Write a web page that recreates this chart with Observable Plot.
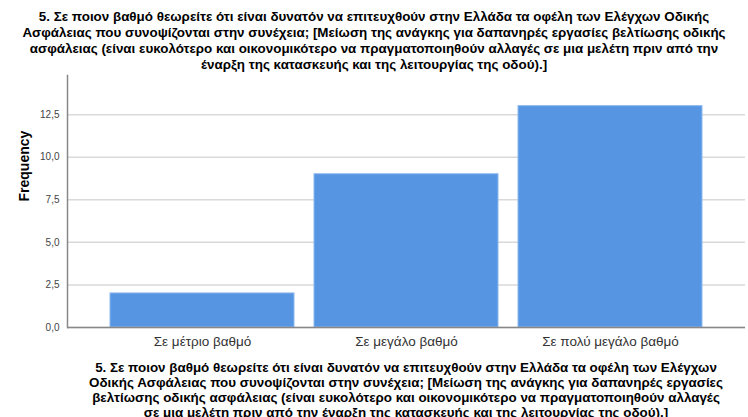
<!DOCTYPE html>
<html>
<head>
<meta charset="utf-8">
<script src="https://cdn.jsdelivr.net/npm/d3@7"></script>
<script src="https://cdn.jsdelivr.net/npm/@observablehq/plot@0.6"></script>
<style>
  html, body { margin: 0; padding: 0; background: #fff; }
  #wrap { position: relative; width: 748px; height: 417px; overflow: hidden; font-family: Arial, "Liberation Sans", sans-serif; }
  #wrap svg { position: absolute; left: 0; top: 0; }
  .ttl { position: absolute; text-align: center; font-weight: bold; font-size: 13.4px; color: #000; white-space: pre; }
  #title { left: 0; top: 9px; width: 748px; line-height: 16px; }
  #caption { left: 67px; top: 360px; width: 678px; line-height: 15px; }
</style>
</head>
<body>
<div id="wrap">
  <div id="chart"></div>
  <div id="title" class="ttl"></div>
  <div id="caption" class="ttl"></div>
</div>
<script>
const categories = ["Σε μέτριο βαθμό", "Σε μεγάλο βαθμό", "Σε πολύ μεγάλο βαθμό"];
const frequencies = [2, 9, 13];
const yTicks = [0, 2.5, 5, 7.5, 10, 12.5];
const yLabel = "Frequency";
const titleLines = [
  "5. Σε ποιον βαθμό θεωρείτε ότι είναι δυνατόν να επιτευχθούν στην Ελλάδα τα οφέλη των Ελέγχων Οδικής",
  "Ασφάλειας που συνοψίζονται στην συνέχεια; [Μείωση της ανάγκης για δαπανηρές εργασίες βελτίωσης οδικής",
  "ασφάλειας (είναι ευκολότερο και οικονομικότερο να πραγματοποιηθούν αλλαγές σε μια μελέτη πριν από την",
  "έναρξη της κατασκευής και της λειτουργίας της οδού).]"
];
const captionLines = [
  "5. Σε ποιον βαθμό θεωρείτε ότι είναι δυνατόν να επιτευχθούν στην Ελλάδα τα οφέλη των Ελέγχων",
  "Οδικής Ασφάλειας που συνοψίζονται στην συνέχεια; [Μείωση της ανάγκης για δαπανηρές εργασίες",
  "βελτίωσης οδικής ασφάλειας (είναι ευκολότερο και οικονομικότερο να πραγματοποιηθούν αλλαγές",
  "σε μια μελέτη πριν από την έναρξη της κατασκευής και της λειτουργίας της οδού).]"
];

document.getElementById("title").textContent = titleLines.join("\n");
document.getElementById("caption").textContent = captionLines.join("\n");

const data = categories.map((c, i) => ({category: c, value: frequencies[i]}));
const fmt = d => d3.format(".1f")(d).replace(".", ",");

const chart = Plot.plot({
  width: 748,
  height: 417,
  marginTop: 75,
  marginBottom: 90,
  marginLeft: 67,
  marginRight: 3,
  style: {fontFamily: "Arial, 'Liberation Sans', sans-serif", background: "#fff"},
  x: {domain: categories, paddingInner: 0.1, paddingOuter: 0.21, label: null},
  y: {domain: [0, 14.8], label: null},
  marks: [
    Plot.gridY(yTicks, {stroke: "#d9d9d9", strokeOpacity: 1, strokeWidth: 1.5}),
    Plot.barY(data, {x: "category", y: "value", fill: "#5595e2", stroke: "#8db8ee", strokeWidth: 1}),
    Plot.axisY(yTicks, {tickSize: 0, tickPadding: 8, tickFormat: fmt, fontSize: 10, fill: "#444", label: null}),
    Plot.axisX({tickSize: 0, tickPadding: 9, fontSize: 13.5, fill: "#333", label: null}),
    Plot.ruleY([0], {stroke: "#888", strokeWidth: 1.5}),
    Plot.frame({anchor: "left", stroke: "#888", strokeWidth: 1.5}),
    Plot.text([yLabel], {frameAnchor: "left", dx: -43, rotate: -90, fontWeight: "bold", fontSize: 14, fill: "#000"})
  ]
});
document.getElementById("chart").appendChild(chart);
</script>
</body>
</html>
